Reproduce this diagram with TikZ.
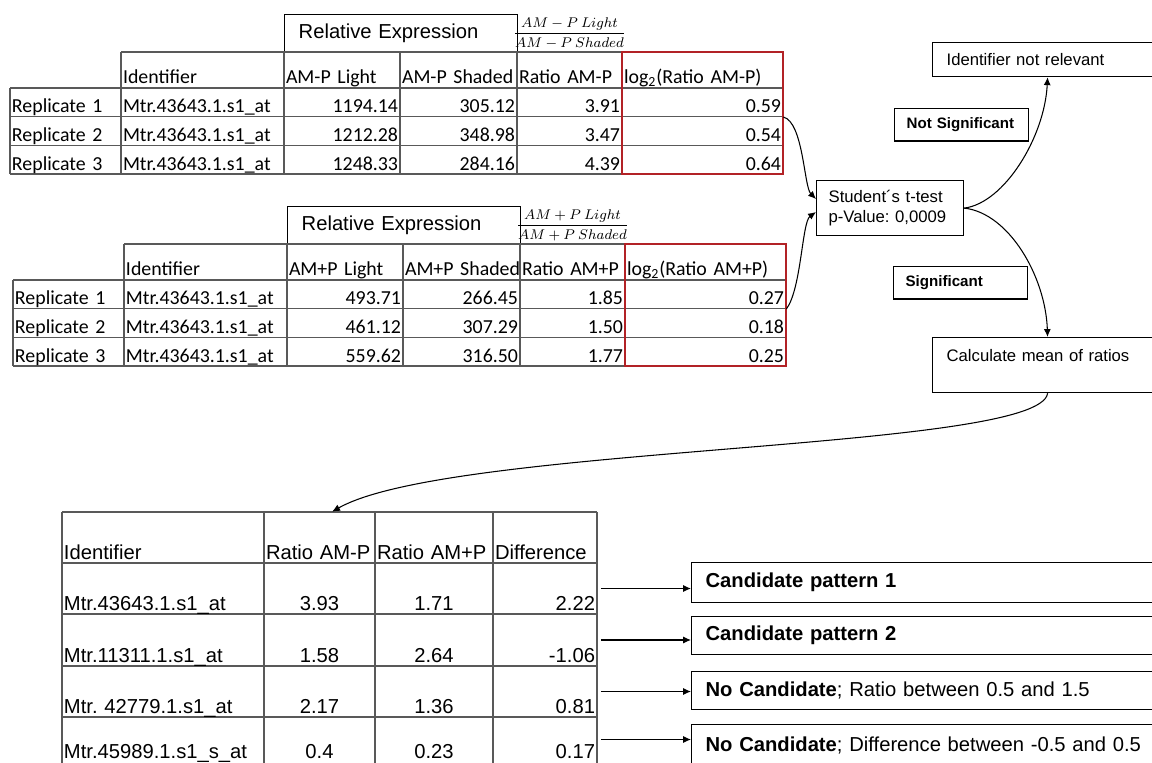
\documentclass[tikz,border=0pt]{standalone}
\usepackage{amsmath}
\usepackage{fontspec}
\setmainfont{Carlito}
\newfontfamily\arialf{Liberation Sans}
\usetikzlibrary{arrows.meta}
\definecolor{redbox}{RGB}{178,34,38}
\frenchspacing

% one table cell: name, x1, y1, x2, y2, alignment, text
\newcommand{\tcell}[7]{%
  \pgfmathsetmacro\tcw{(#4-#2-4)*0.02}%
  \pgfmathsetmacro\tch{(#5-#3-4)*0.02}%
  \node[cellnode, align=#6, text width=\tcw cm, text height=\tch cm]
    (#1) at ({(#2+#4)/2},{(#3+#5)/2}) {\mbox{#7}};}

% replicate table: prefix, sign, rows
\newcommand{\exprtable}[3]{%
  \node[titlebox] (#1-title) at (284,14) {Relative Expression};
  \node[inner sep=0pt, font=\fontsize{8}{9.6}\selectfont] (#1-frac) at (569.5,33.5)
    {$\dfrac{AM #2 P\ Light}{AM #2 P\ Shaded}$};
  \draw[gridline] (121,52) -- (783,52);
  \foreach \y in {88,116.67,145.33,174} \draw[gridline] (10,\y) -- (783,\y);
  \draw[gridline] (10,88) -- (10,174);
  \foreach \x in {121,284,400,517} \draw[gridline] (\x,52) -- (\x,174);
  \draw[redline] (622,52) rectangle (783,174);
  \tcell{#1-hid}{121}{52}{284}{88}{left}{Identifier}
  \tcell{#1-hli}{284}{52}{400}{88}{left}{AM#2P Light}
  \tcell{#1-hsh}{400}{52}{517}{88}{left}{AM#2P Shaded}
  \tcell{#1-hra}{517}{52}{622}{88}{left}{Ratio AM#2P}
  \tcell{#1-hlg}{622}{52}{783}{88}{left}{log\textsubscript{2}(Ratio AM#2P)}
  \foreach \r/\a/\b/\c/\d [evaluate=\r as \yt using 88+(\r-1)*28.67,
      evaluate=\r as \yb using 88+\r*28.67] in {#3} {
    \tcell{#1-rep\r}{10}{\yt}{121}{\yb}{left}{Replicate \r}
    \tcell{#1-id\r}{121}{\yt}{284}{\yb}{left}{Mtr.43643.1.s1\_at}
    \tcell{#1-li\r}{284}{\yt}{400}{\yb}{right}{\a}
    \tcell{#1-sh\r}{400}{\yt}{517}{\yb}{right}{\b}
    \tcell{#1-ra\r}{517}{\yt}{622}{\yb}{right}{\c}
    \tcell{#1-lg\r}{622}{\yt}{783}{\yb}{right}{\d}
  }
}

\begin{document}
\begin{tikzpicture}[x=0.02cm, y=-0.02cm,
  gridline/.style={draw=black!65, line width=0.8pt},
  redline/.style={draw=redbox, line width=1.1pt},
  cellnode/.style={inner xsep=0.04cm, inner ysep=0pt, text depth=0.08cm,
    font=\fontsize{11.3}{13}\selectfont},
  titlebox/.style={draw, line width=0.8pt, anchor=north west, align=left,
    text width=4.1cm, minimum height=0.76cm, inner xsep=0.28cm,
    font=\arialf\fontsize{11.5}{13}\selectfont},
  flowbox/.style={draw, line width=0.7pt, anchor=north west, align=left,
    inner xsep=0.28cm, inner ysep=0pt, font=\arialf\fontsize{9.5}{11.3}\selectfont},
  labelbox/.style={flowbox, inner xsep=0.24cm, text width=2.2cm, minimum height=0.65cm,
    font=\arialf\bfseries\fontsize{8.6}{10}\selectfont},
  candbox/.style={flowbox, text width=9.04cm, font=\arialf\fontsize{11.5}{13}\selectfont},
  conn/.style={-{Latex[length=4.5pt,width=4pt]}, line width=0.6pt}]
\useasboundingbox (0,0) rectangle (1152,763);

% replicate tables
\exprtable{mA}{-}{1/1194.14/305.12/3.91/0.59, 2/1212.28/348.98/3.47/0.54, 3/1248.33/284.16/4.39/0.64}
\begin{scope}[shift={(3,192)}]
\exprtable{pA}{+}{1/493.71/266.45/1.85/0.27, 2/461.12/307.29/1.50/0.18, 3/559.62/316.50/1.77/0.25}
\end{scope}

% test and decisions
\node[flowbox, text width=4.04cm, minimum height=0.68cm] (irr) at (932,42) {Identifier not relevant};
\node[labelbox] (nsig) at (894,108) {Not Significant};
\node[flowbox, inner xsep=0.24cm, text width=2.46cm, minimum height=1.1cm] (ttest) at (816,180)
  {Student´s t-test\\p-Value: 0,0009};
\node[labelbox] (sig) at (893,266) {Significant};
\node[flowbox, text width=4.04cm, minimum height=1.1cm] (mean) at (932,337) {Calculate mean of ratios\\\mbox{}};

% mean ratio table
\begin{scope}[cellnode/.append style={font=\arialf\fontsize{11.5}{13}\selectfont}]
\foreach \y in {512,563,614,666,717} \draw[gridline] (62,\y) -- (597,\y);
\foreach \x in {62,264,375,493,597} \draw[gridline] (\x,512) -- (\x,775);
\tcell{hId}{62}{512}{264}{563}{left}{Identifier}
\tcell{hRm}{264}{512}{375}{563}{left}{Ratio AM-P}
\tcell{hRp}{375}{512}{493}{563}{left}{Ratio AM+P}
\tcell{hDf}{493}{512}{597}{563}{left}{Difference}
\foreach \r/\yt/\yb/\id/\m/\p/\dd in {1/563/614/Mtr.43643.1.s1\_at/3.93/1.71/2.22,
    2/614/666/Mtr.11311.1.s1\_at/1.58/2.64/-1.06, 3/666/717/Mtr. 42779.1.s1\_at/2.17/1.36/0.81,
    4/717/762/Mtr.45989.1.s1\_s\_at/0.4/0.23/0.17} {
  \tcell{id\r}{62}{\yt}{264}{\yb}{left}{\id}
  \tcell{rm\r}{264}{\yt}{375}{\yb}{center}{\m}
  \tcell{rp\r}{375}{\yt}{493}{\yb}{center}{\p}
  \tcell{df\r}{493}{\yt}{597}{\yb}{right}{\dd}
}
\end{scope}

% outcomes
\node[candbox, minimum height=0.8cm] (cand1) at (691,562) {\textbf{Candidate pattern 1}};
\node[candbox, minimum height=0.76cm] (cand2) at (691,616) {\textbf{Candidate pattern 2}};
\node[candbox, minimum height=0.76cm] (cand3) at (691,671) {\textbf{No Candidate}; Ratio between 0.5 and 1.5};
\node[candbox, minimum height=0.84cm] (cand4) at (691,724) {\textbf{No Candidate}; Difference between -0.5 and 0.5};

\draw[conn] (mA-lg1.south east) .. controls +(20,5) and +(-12,-12) .. (ttest.173);
\draw[conn] (pA-lg1.south east) .. controls +(15,-20) and +(-14,10) .. (ttest.183);
\draw[conn] (ttest.east) .. controls +(40,-5) and +(-3,60) .. (irr.south);
\draw[conn] (ttest.east) .. controls +(45,5) and +(-2,-60) .. (mean.north);
\draw[conn] (mean.south) .. controls +(-7,58) and +(118,-67) .. (hRm.64);
\foreach \r in {1,...,4} \draw[conn, shorten <=2pt] (df\r.east) -- (df\r.east -| cand\r.west);
\end{tikzpicture}
\end{document}
